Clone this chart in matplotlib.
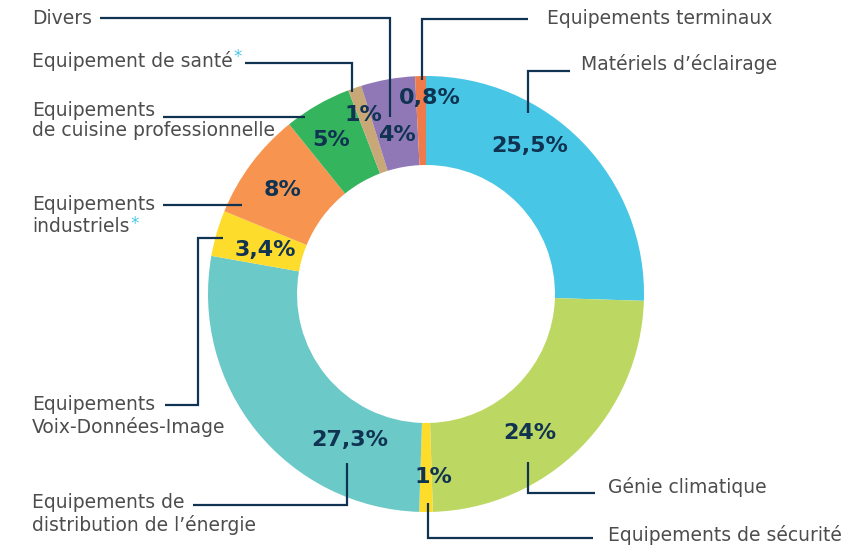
import matplotlib
matplotlib.use('Agg')
import matplotlib.pyplot as plt

# data, clockwise from 12 o'clock
categories = ['Matériels d\u2019éclairage', 'Génie climatique', 'Equipements de sécurité',
              'Equipements de distribution de l\u2019énergie', 'Equipements Voix-Données-Image',
              'Equipements industriels', 'Equipements de cuisine professionnelle',
              'Equipement de santé', 'Divers', 'Equipements terminaux']
shares = [25.5, 24, 1, 27.3, 3.4, 8, 5, 1, 4, 0.8]
pct_labels = ['25,5%', '24%', '1%', '27,3%', '3,4%', '8%', '5%', '1%', '4%', '0,8%']
colors = ['#48c6e6', '#bdd862', '#fedc2b', '#6bc9c8', '#fedc2b',
          '#f79550', '#35b45e', '#c9a877', '#9078b7', '#ef7a4a']

W, H = 868, 546
NAVY = '#103352'
GREY = '#4d4d4d'
CYAN = '#48c6e6'


def fy(y):
    # pixel row (top down) -> data y
    return H - y


fig = plt.figure(figsize=(W / 100, H / 100), dpi=100)
ax = fig.add_axes([0, 0, 1, 1])

ax.pie(shares, colors=colors, startangle=90, counterclock=False,
       center=(426, fy(294)), radius=218,
       wedgeprops=dict(width=89, edgecolor='none'), frame=True)
ax.set_xlim(0, W)
ax.set_ylim(0, H)
ax.set_aspect('equal')
ax.axis('off')

# percentage labels (pixel positions of their centres)
pct_pos = [(530, 146), (530, 433), (433, 477), (350, 440), (265, 250),
           (283, 190), (331, 140), (363, 115), (397, 135), (430, 98)]
for lab, (px, py) in zip(pct_labels, pct_pos):
    ax.text(px, fy(py), lab, ha='center', va='center', fontsize=16,
            fontweight='bold', color=NAVY)

# category labels, one text per line: (x, y, text, starred)
label_lines = [
    (32, 18, 'Divers', False),
    (32, 61, 'Equipement de santé', True),
    (32, 110, 'Equipements', False),
    (32, 131, 'de cuisine professionnelle', False),
    (32, 205, 'Equipements', False),
    (32, 227, 'industriels', True),
    (32, 405, 'Equipements', False),
    (32, 427, 'Voix-Données-Image', False),
    (32, 503, 'Equipements de', False),
    (32, 525, 'distribution de l\u2019énergie', False),
    (547, 18, 'Equipements terminaux', False),
    (581, 64, 'Matériels d\u2019éclairage', False),
    (608, 487, 'Génie climatique', False),
    (608, 535, 'Equipements de sécurité', False),
]
for x, y, txt, star in label_lines:
    t = ax.text(x, fy(y), txt, ha='left', va='center', fontsize=13.5, color=GREY)
    if star:
        ax.annotate('*', xy=(1, 1), xycoords=t, xytext=(0.5, 2), textcoords='offset points',
                    ha='left', va='top', fontsize=12, color=CYAN)

# leader lines (pixel paths)
leaders = [
    [(100, 18), (390, 18), (390, 117)],
    [(245, 63), (352, 63), (352, 92)],
    [(163, 117), (305, 117)],
    [(163, 205), (242, 205)],
    [(165, 405), (198, 405), (198, 238), (223, 238)],
    [(193, 505), (347, 505), (347, 463)],
    [(528, 19), (422, 19), (422, 80)],
    [(570, 71), (528, 71), (528, 113)],
    [(528, 462), (528, 493), (595, 493)],
    [(428, 503), (428, 538), (593, 538)],
]
for path in leaders:
    xs = [p[0] for p in path]
    ys = [fy(p[1]) for p in path]
    ax.plot(xs, ys, color=NAVY, lw=1.6, solid_capstyle='butt', solid_joinstyle='miter')

fig.savefig('out.png', dpi=100)
